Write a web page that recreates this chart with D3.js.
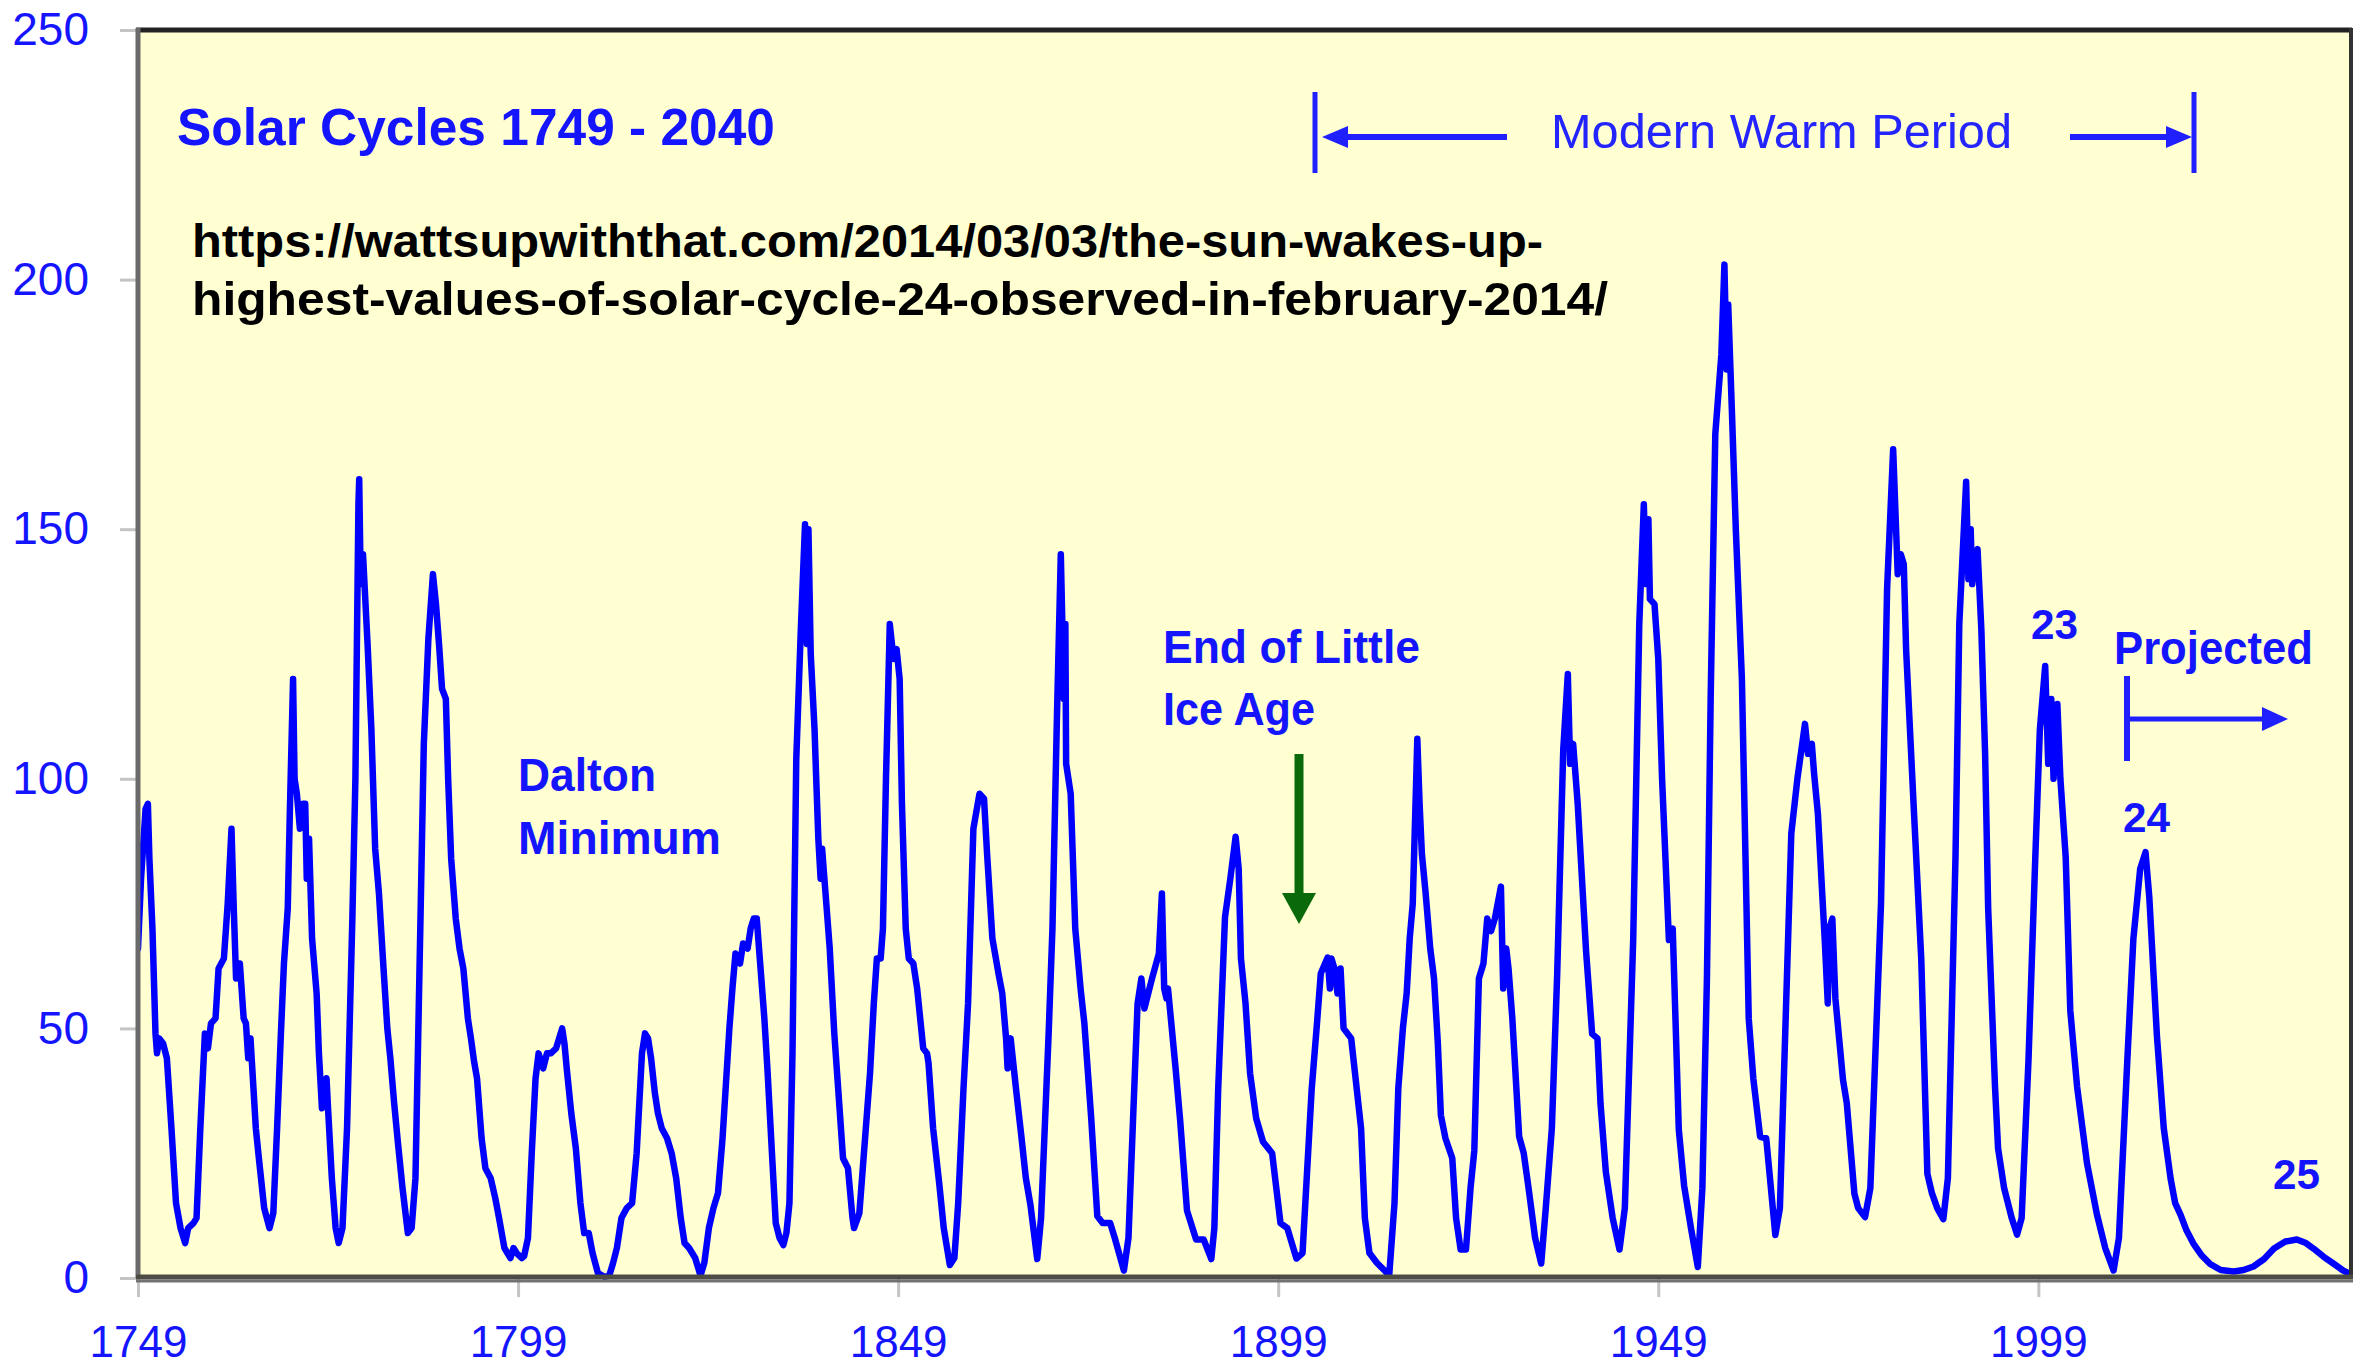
<!DOCTYPE html>
<html>
<head>
<meta charset="utf-8">
<script src="https://cdn.jsdelivr.net/npm/d3@7"></script>
<style>
  html, body { margin: 0; padding: 0; background: #ffffff; }
  svg { display: block; }
</style>
</head>
<body>
<script>
// ---- Data (13-month smoothed sunspot number) ----
const years = [
1749.0,1749.4,1750.0,1750.3,1750.5,1750.9,1751.3,1751.5,1751.8,1752.3,1752.8,1753.4,1754.0,1754.6,1755.2,1755.6,1756.3,1756.7,1757.2,1757.8,
1758.2,1758.6,1759.2,1759.6,1760.3,1760.8,1761.3,1761.6,1761.9,1762.4,1762.9,1763.2,1763.5,1763.8,1764.5,1764.9,1765.6,1766.3,1766.8,1767.3,
1767.8,1768.2,1768.7,1769.0,1769.4,1769.6,1769.9,1770.3,1770.7,1771.0,1771.2,1771.5,1771.9,1772.5,1772.8,1773.2,1773.8,1774.0,1774.5,1775.0,
1775.4,1775.9,1776.5,1777.2,1777.6,1778.0,1778.1,1778.3,1778.6,1779.2,1779.7,1780.2,1780.7,1781.3,1781.8,1782.2,1782.7,1783.2,1783.8,1784.5,
1785.0,1785.5,1786.2,1786.6,1787.2,1787.8,1788.2,1788.6,1789.0,1789.5,1789.8,1790.2,1790.8,1791.3,1791.8,1792.4,1792.8,1793.2,1793.6,1794.2,
1794.7,1795.4,1796.0,1796.5,1797.2,1798.0,1798.4,1798.8,1799.5,1799.8,1800.3,1800.8,1801.3,1801.7,1802.3,1802.8,1803.3,1804.0,1804.8,1805.1,
1805.4,1806.0,1806.6,1807.2,1807.7,1808.3,1808.8,1809.5,1810.4,1811.0,1811.5,1812.0,1812.6,1813.3,1814.0,1814.6,1815.3,1815.7,1816.1,1816.5,
1817.0,1817.4,1817.9,1818.6,1819.2,1819.8,1820.4,1820.9,1821.5,1822.3,1823.0,1823.5,1824.1,1824.7,1825.3,1825.9,1826.8,1827.2,1827.6,1828.2,
1828.6,1829.2,1829.6,1830.0,1830.4,1830.8,1831.4,1831.8,1832.4,1832.9,1833.4,1833.9,1834.3,1834.7,1835.1,1835.6,1836.2,1836.75,1837.0,1837.2,
1837.5,1838.0,1838.2,1838.5,1838.8,1839.0,1839.4,1840.0,1840.6,1841.2,1841.75,1842.4,1843.0,1843.2,1843.9,1844.5,1845.3,1845.8,1846.2,1846.7,
1847.0,1847.4,1847.9,1848.4,1848.8,1849.2,1849.5,1850.0,1850.4,1851.0,1851.5,1852.3,1852.8,1853.0,1853.6,1854.4,1855.0,1855.8,1856.4,1856.9,
1857.6,1858.2,1858.9,1859.7,1860.3,1860.7,1861.4,1862.2,1862.7,1863.2,1863.4,1863.8,1864.5,1865.2,1865.8,1866.4,1867.3,1867.8,1868.8,1869.3,
1869.9,1870.4,1870.6,1870.8,1871.0,1871.1,1871.7,1872.3,1873.0,1873.5,1874.4,1875.2,1875.9,1876.9,1877.5,1878.7,1879.3,1879.9,1880.5,1881.0,
1881.4,1881.9,1882.4,1883.3,1883.7,1884.0,1884.3,1884.5,1885.0,1885.5,1886.1,1887.0,1888.2,1889.2,1890.2,1890.6,1891.1,1892.0,1892.7,1893.4,
1893.8,1894.1,1894.7,1895.3,1896.1,1897.0,1898.2,1899.3,1900.2,1901.4,1902.2,1903.4,1904.1,1904.6,1905.5,1905.8,1906.0,1906.4,1906.8,1907.2,
1907.6,1908.6,1909.2,1909.9,1910.4,1911.0,1912.0,1913.0,1913.6,1914.3,1914.8,1915.4,1915.9,1916.3,1916.7,1917.3,1917.6,1917.9,1918.4,1919.0,
1919.5,1920.0,1920.4,1921.0,1921.9,1922.4,1923.0,1923.7,1924.3,1924.8,1925.4,1926.0,1926.5,1927.0,1927.5,1928.3,1928.6,1929.0,1929.3,1929.8,
1930.7,1931.3,1931.9,1932.8,1933.6,1934.2,1935.0,1935.7,1936.5,1937.1,1937.4,1937.8,1938.4,1939.5,1940.3,1941.0,1941.4,1942.1,1943.0,1943.9,
1944.6,1945.7,1946.5,1947.1,1947.4,1947.7,1947.9,1948.5,1949.0,1949.5,1950.4,1950.9,1951.3,1951.7,1952.4,1953.3,1954.2,1954.8,1955.4,1955.9,
1956.5,1957.3,1957.7,1958.0,1958.2,1958.7,1959.2,1960.0,1960.9,1961.5,1962.4,1963.2,1964.4,1965.0,1966.5,1967.3,1968.3,1968.7,1969.2,1969.5,
1970.0,1970.9,1971.3,1971.5,1971.9,1972.3,1973.3,1973.8,1974.8,1975.3,1976.2,1976.9,1978.3,1979.1,1979.9,1980.5,1980.9,1981.3,1981.6,1982.6,
1983.6,1984.4,1985.0,1985.7,1986.5,1987.1,1988.1,1988.6,1989.5,1989.8,1990.1,1990.3,1990.7,1991.0,1991.5,1992.0,1992.4,1993.3,1993.7,1994.5,
1995.5,1996.2,1996.8,1997.7,1998.6,1999.2,1999.9,2000.3,2000.7,2001.0,2001.5,2001.9,2002.6,2003.2,2004.1,2005.4,2006.7,2007.8,2008.9,2009.6,
2010.7,2011.5,2012.4,2013.1,2013.6,2014.6,2015.5,2016.4,2017.0,2017.7,2018.5,2019.4,2020.5,2021.6,2023.0,2024.7,2026.0,2027.3,2028.7,2030.0,
2031.5,2033.0,2034.2,2035.2,2036.5,2037.9,2039.0,2040.0
];
const sunspots = [
66,80,94,95,84,70,49,45,48,47,44,30,15,10,7,10,11,12,30,49,
46,51,52,62,64,75,90,74,60,63,52,51,44,48,30,24,14,10,13,30,
49,63,74,95,120,100,97,90,95,95,80,88,68,57,45,34,40,34,20,10,
7,10,30,72,100,155,160,139,145,127,110,86,77,62,50,44,35,27,18,9,
10,20,75,107,128,141,135,127,118,116,100,84,72,66,62,52,48,43.5,40,28,
22,20,16,12,6,4,6,5,4,4.4,8,25,40,45,42,45,45,46,50,47,
42,33,26,15,9,9,5,1,0.2,0.5,3,6,12,14,15,25,45,49,48,44,
37,33,30,28,25,20,12,7,6,4,0.5,3,10,14,17,28,50,58,65,63,
67,66,70,72,72,64,52,42,25,11,8,6.6,9,15,45,104,130,151,127,150,
125,110,101,88,80,86,78,66,49,36,24,22,12,10,13,25,41,55,64,64,
70,100,131,124,126,120,95,70,64,63,58,46,45,43,30,19,10,2.6,4,15,
38,55,90,97,96,85,68,61,57,48,42,48,38,28.5,20,14.7,3.8,12,49,70,
113,145,131,116,131,103,97,70,58,51,32,12.4,11,11,8,1.5,8,31.6,55,60,
54,57,60,65,77,58,56,58,50,42,31.6,13.5,7.7,7.7,3.8,10,37.7,72.3,80,88.4,
82,64,55,41,32,27.3,25,11,10,3.9,5,37.7,51,61,64.2,58,64,62,57,62,
50,48,39.7,30,12,5,3,1.5,0.5,15,38,50,57,68,75,108,95,85,77,66,
60,47,32.6,28,24,12,5.7,5.7,18,25.5,60,63,72,69.5,72,78.4,58,66,62,52,
28.3,25,18.4,8,2.9,14,30,60.8,105.9,121,103,107,95,65.5,48.9,48,35,21.3,12,5.7,
14,67.7,131,155,139,152,136,135,124,100,67.7,70,50,29.7,18.5,10,2.2,18,60,117,
169,185,203,182,195,173,150,120,52,40,28.3,28,8.6,14,89,100,111,105,107,101,
93,67.7,55,70,72,56,39.7,35,16.9,14,12.2,18,75,138,166,141,145,143,126,94.5,
63.8,20.9,17,14,11.8,20,84.3,131,159.5,140,150,139,145,146,130,104.8,74,38.3,26,18,
12,8.7,12,43.5,84.3,109.8,122.6,103,116,100,115,100,84.3,53.6,38.3,23,12.8,6,1.5,8,
43.5,67.9,82,85.3,76.2,48.5,30,19.9,15,12.7,9.5,6.9,4.5,2.8,1.6,1.3,1.6,2.3,3.8,5.9,
7.3,7.7,7,5.9,4.3,2.8,1.6,0.8
];
const yTickValues = [0, 50, 100, 150, 200, 250];
const xTickValues = [1749, 1799, 1849, 1899, 1949, 1999];
const xDomain = [1749, 2040];
const yDomain = [0, 250];

// ---- Layout ----
const W = 2354, H = 1369;
const L = 138, R = 2350, T = 30, B = 1278;
const BLUE = "#0000FF";
const TEXT_BLUE = "#1414FF";

const svg = d3.select("body").append("svg").attr("width", W).attr("height", H);
svg.append("rect").attr("width", W).attr("height", H).attr("fill", "#ffffff");

const x = d3.scaleLinear().domain(xDomain).range([L, R]);
const y = d3.scaleLinear().domain(yDomain).range([B, T]);

// plot background
svg.append("rect").attr("x", L).attr("y", T).attr("width", R - L).attr("height", B - T)
  .attr("fill", "#FFFFD2");

// ---- Axes ----
const yAxis = d3.axisLeft(y).tickValues(yTickValues).tickSize(18).tickPadding(31)
  .tickFormat(d3.format("d"));
const gy = svg.append("g").attr("transform", `translate(${L},0)`).call(yAxis);
gy.select(".domain").remove();
gy.selectAll(".tick line").attr("stroke", "#c4c4c4").attr("stroke-width", 3);
gy.selectAll(".tick text").attr("fill", TEXT_BLUE)
  .style("font-family", "'Liberation Sans', Arial, sans-serif").style("font-size", "46px");

const xAxis = d3.axisBottom(x).tickValues(xTickValues).tickSize(19).tickPadding(29)
  .tickFormat(d3.format("d"));
const gx = svg.append("g").attr("transform", `translate(0,${B})`).call(xAxis);
gx.select(".domain").remove();
gx.selectAll(".tick line").attr("stroke", "#c4c4c4").attr("stroke-width", 3);
gx.selectAll(".tick text").attr("fill", TEXT_BLUE)
  .style("font-family", "'Liberation Sans', Arial, sans-serif").style("font-size", "44px");

// ---- Series ----
const series = years.map((yr, i) => [yr, sunspots[i]]);
svg.append("clipPath").attr("id", "plotclip").append("rect")
  .attr("x", L).attr("y", T).attr("width", R - L).attr("height", B - T + 4);
const line = d3.line().x(d => x(d[0])).y(d => y(d[1]));
svg.append("path").datum(series)
  .attr("clip-path", "url(#plotclip)")
  .attr("d", line)
  .attr("fill", "none")
  .attr("stroke", BLUE)
  .attr("stroke-width", 6.5)
  .attr("stroke-linejoin", "round")
  .attr("stroke-linecap", "round");

// ---- Frame ----
svg.append("line").attr("x1", L - 2).attr("x2", R + 2).attr("y1", T).attr("y2", T)
  .attr("stroke", "#222222").attr("stroke-width", 5);
svg.append("line").attr("x1", L).attr("x2", L).attr("y1", T - 2).attr("y2", B)
  .attr("stroke", "#6a6a6a").attr("stroke-width", 5);
svg.append("line").attr("x1", R + 1).attr("x2", R + 1).attr("y1", T - 2).attr("y2", B)
  .attr("stroke", "#333333").attr("stroke-width", 4);
svg.append("line").attr("x1", L - 2).attr("x2", R + 3).attr("y1", B - 1).attr("y2", B - 1)
  .attr("stroke", "#4c4c44").attr("stroke-width", 5);
svg.append("line").attr("x1", L - 2).attr("x2", R + 3).attr("y1", B + 3).attr("y2", B + 3)
  .attr("stroke", "#727272").attr("stroke-width", 3);

// ---- Texts ----
function txt(str, px, py, opts) {
  const t = svg.append("text").attr("x", px).attr("y", py).text(str)
    .style("font-family", opts.family || "'Liberation Sans', Arial, sans-serif")
    .style("font-size", opts.size + "px")
    .style("font-weight", opts.weight || "normal")
    .attr("fill", opts.fill || TEXT_BLUE);
  if (opts.len) t.attr("textLength", opts.len).attr("lengthAdjust", "spacingAndGlyphs");
  if (opts.anchor) t.attr("text-anchor", opts.anchor);
  return t;
}

txt("Solar Cycles 1749 - 2040", 177, 145, {size: 52, weight: "bold", len: 598});
txt("https://wattsupwiththat.com/2014/03/03/the-sun-wakes-up-", 192, 257,
  {size: 47, weight: "bold", fill: "#000000", len: 1351});
txt("highest-values-of-solar-cycle-24-observed-in-february-2014/", 192, 315,
  {size: 47, weight: "bold", fill: "#000000", len: 1416});

txt("Modern Warm Period", 1551, 148, {size: 48, fill: "#2424FF", len: 461});
txt("Dalton", 518, 791, {size: 47, weight: "bold", len: 138});
txt("Minimum", 518, 854, {size: 47, weight: "bold", len: 203});
txt("End of Little", 1163, 663, {size: 47, weight: "bold", len: 257});
txt("Ice Age", 1163, 725, {size: 47, weight: "bold", len: 152});
txt("Projected", 2114, 664, {size: 47, weight: "bold", len: 199});
txt("23", 2031, 639, {size: 42, weight: "bold", len: 47});
txt("24", 2123, 832, {size: 42, weight: "bold", len: 47});
txt("25", 2273, 1189, {size: 42, weight: "bold", len: 47});

// ---- Modern Warm Period bracket ----
const AB = "#2020FF";
const mwY = 137;
[1315, 2194].forEach(bx => {
  svg.append("line").attr("x1", bx).attr("x2", bx).attr("y1", 92).attr("y2", 173)
    .attr("stroke", AB).attr("stroke-width", 5);
});
svg.append("line").attr("x1", 1507).attr("x2", 1345).attr("y1", mwY).attr("y2", mwY)
  .attr("stroke", AB).attr("stroke-width", 6);
svg.append("path").attr("d", `M1322,${mwY} L1348,${mwY - 11} L1348,${mwY + 11} Z`).attr("fill", AB);
svg.append("line").attr("x1", 2070).attr("x2", 2170).attr("y1", mwY).attr("y2", mwY)
  .attr("stroke", AB).attr("stroke-width", 6);
svg.append("path").attr("d", `M2192,${mwY} L2166,${mwY - 11} L2166,${mwY + 11} Z`).attr("fill", AB);

// ---- Projected arrow ----
svg.append("line").attr("x1", 2127).attr("x2", 2127).attr("y1", 676).attr("y2", 761)
  .attr("stroke", AB).attr("stroke-width", 6);
svg.append("line").attr("x1", 2127).attr("x2", 2266).attr("y1", 719).attr("y2", 719)
  .attr("stroke", AB).attr("stroke-width", 5);
svg.append("path").attr("d", "M2288,719 L2262,707 L2262,731 Z").attr("fill", AB);

// ---- Green arrow ----
const G = "#0a6a0a";
svg.append("line").attr("x1", 1299).attr("x2", 1299).attr("y1", 754).attr("y2", 898)
  .attr("stroke", G).attr("stroke-width", 9);
svg.append("path").attr("d", "M1299,924 L1282,893 L1316,893 Z").attr("fill", G);
</script>
</body>
</html>
